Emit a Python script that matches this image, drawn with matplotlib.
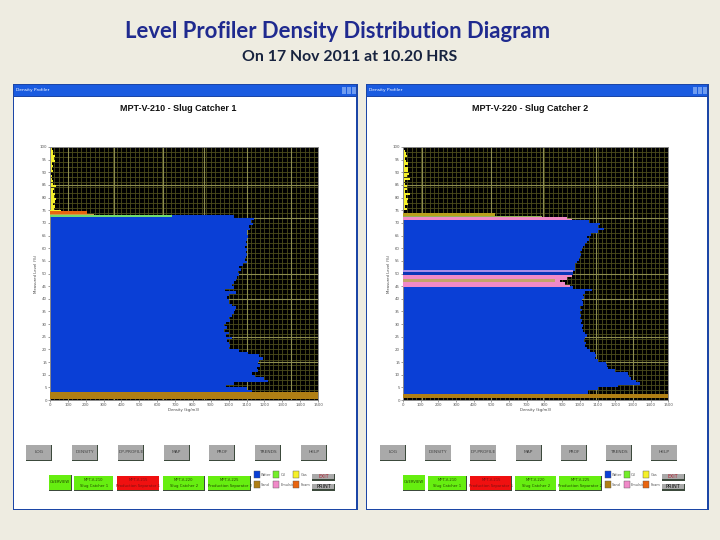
# -*- coding: utf-8 -*-
"""
level profiler density screens, two slug catchers side by side
"""
import matplotlib
matplotlib.use("Agg")
import matplotlib.pyplot as plt
from matplotlib.patches import Rectangle

# phase colours
WATER = "#0a3fd6"
OIL = "#6fdc6f"
GAS = "#f5f02a"
SAND = "#b07f14"
EMULSION = "#f08ac8"
FOAM = "#e8650f"

# left vessel, one value per level from 2 up to 72
v210_levels = list(range(2, 73))
v210_water = [1130, 1130, 1100, 985, 1030, 1220, 1200, 1150, 1130, 1165, 1160,
              1175, 1165, 1170, 1190, 1170, 1110, 1060, 1000, 1010, 1000,
              990, 1020, 985, 1000, 975, 990, 975, 985, 1010, 1000,
              1020, 1030, 1035, 1040, 1020, 1000, 1000, 990, 1000, 1040,
              980, 1030, 1020, 1030, 1040, 1045, 1060, 1050, 1070, 1060,
              1080, 1100, 1090, 1095, 1100, 1095, 1100, 1090, 1100, 1095,
              1100, 1110, 1100, 1105, 1120, 1115, 1135, 1125, 1140, 1030]
v210_gas_levels = [75, 76, 77, 78, 79, 80, 81, 82, 83, 84, 85, 86, 87, 88, 89,
                   90, 91, 92, 93, 94, 95, 96, 97, 98, 99]
v210_gas = [20, 30, 16, 26, 34, 20, 30, 16, 24, 32, 14, 18, 10, 12, 8,
            14, 10, 16, 12, 28, 24, 28, 18, 16, 10]

# right vessel
v220_levels = list(range(2, 71))
v220_water = [1047, 1047, 1104, 1217, 1340, 1320, 1290, 1280, 1274, 1200, 1160,
              1155, 1150, 1100, 1085, 1090, 1085, 1060, 1040, 1030, 1035,
              1025, 1030, 1040, 1030, 1020, 1010, 1015, 1005, 1010, 1000,
              1005, 1000, 1010, 1000, 1015, 1020, 1010, 1025, 1020, 1030,
              1066, 960, 0, 0, 0, 0, 0, 963, 975, 972,
              975, 985, 995, 1000, 1005, 1000, 1010, 1020, 1030, 1040,
              1050, 1040, 1065, 1100, 1135, 1100, 1115, 1050]
v220_gas_levels = [75, 76, 77, 78, 79, 80, 81, 82, 83, 84, 85, 86, 87, 88, 89,
                   90, 91, 92, 93, 94, 95, 96, 97, 98, 99]
v220_gas = [22, 12, 26, 20, 28, 18, 40, 12, 20, 24, 14, 10, 42, 22, 36,
            30, 28, 12, 26, 18, 14, 24, 16, 12, 8]
v220_emulsion_levels = [44.5, 45.5, 46.5, 47.5, 48.5]
v220_emulsion = [944, 915, 887, 930, 953]

x_ticks = list(range(0, 1501, 100))
y_ticks = list(range(0, 101, 5))

# aliased grid of the screenshot, brighter lines
v210_bright_x = [100, 360, 630, 860, 1100, 1350]
v220_bright_x = [105, 500, 790, 1090, 1300]
bright_y = [15, 25, 40, 50, 72, 85]

left_buttons = ["LOG", "DENSITY", "DP-PROFILE", "MAP", "PROF", "TRENDS", "HELP"]
right_buttons = ["LOG", "DENSITY", "DP-PROFILE", "MAP", "PROF", "TRENDS", "HELP"]
vessel_names = ["MPT-V-210\nSlug Catcher 1", "MPT-V-215\nProduction Separator 1",
                "MPT-V-220\nSlug Catcher 2", "MPT-V-225\nProduction Separator 2"]
legend_names = ["Water", "Oil", "Gas", "Sand", "Emulsion", "Foam"]
legend_colors = [WATER, "#74ee2a", GAS, SAND, EMULSION, FOAM]


def box(bg, x0, y0, x1, y1, color, edge="none", lw=0.0, z=1):
    bg.add_patch(Rectangle((x0, y0), x1 - x0, y1 - y0, facecolor=color,
                           edgecolor=edge, linewidth=lw, zorder=z))


def raised(bg, x0, y0, x1, y1, color, label, fontsize=3.2, textcolor="#444444"):
    # windows style button, dark lower edge
    box(bg, x0, y0, x1, y1, "#3c4a3c", z=2)
    box(bg, x0, y0, x1 - 0.6, y1 - 1.2, color, z=2.5)
    bg.text((x0 + x1) / 2, (y0 + y1) / 2 - 0.5, label, ha="center", va="center",
            fontsize=fontsize, color=textcolor, zorder=3, linespacing=1.5)


def draw_profile(fig, rect, levels, water, gas_levels, gas, bright_x):
    ax = fig.add_axes([rect[0] / 720, 1 - rect[3] / 540,
                       (rect[2] - rect[0]) / 720, (rect[3] - rect[1]) / 540])
    ax.set_facecolor("black")
    for x in range(0, 1500, 25):
        ax.axvline(x, color="#4d4d1c", lw=0.6, zorder=1)
    for y in range(0, 100, 2):
        ax.axhline(y, color="#4d4d1c", lw=0.6, zorder=1)
    for x in bright_x:
        ax.axvline(x, color="#8d8d50", lw=0.8, zorder=1)
    for y in bright_y:
        ax.axhline(y, color="#8d8d50", lw=0.8, zorder=1)
    ax.barh(levels, water, height=1.06, align="edge", color=WATER, zorder=2)
    ax.barh(gas_levels, gas, height=0.9, align="edge", color=GAS, zorder=2)
    ax.set_xlim(0, 1500)
    ax.set_ylim(0, 100)
    ax.set_xticks(x_ticks)
    ax.set_yticks(y_ticks)
    ax.tick_params(labelsize=2.8, length=1.2, width=0.4, pad=1, colors="#555555")
    ax.set_xlabel("Density (kg/m3)", fontsize=2.8, labelpad=1, color="#444444")
    ax.set_ylabel("Measured Level (%)", fontsize=2.8, labelpad=1, color="#444444")
    for s in ax.spines.values():
        s.set_color("#8a8a8a")
        s.set_linewidth(0.7)
    return ax


def draw_legend(bg, xs, exit_x):
    for row, y in enumerate([471.0, 481.0]):
        for col, x in enumerate(xs):
            i = row * 3 + col
            box(bg, x, y, x + 6, y + 7, legend_colors[i], edge="#555555", lw=0.3, z=3)
            bg.text(x + 7, y + 3.5, legend_names[i], fontsize=2.5, va="center",
                    color="#555555", zorder=3)
    raised(bg, exit_x, 473.5, exit_x + 22.5, 480.5, "#a9a9a9", "EXIT", 3.4, "#b02030")
    raised(bg, exit_x, 483.5, exit_x + 22.5, 490.5, "#a9a9a9", "PRINT", 3.6, "#111111")


def draw_window(bg, x0, x1, name, button_xs, tab_xs, overview_x, legend_xs, exit_x, buttons):
    box(bg, x0, 84, x1, 510, "#1c46a6")
    box(bg, x0 + 1.2, 97, x1 - 1.2, 508.6, "white", z=1.5)
    box(bg, x0 + 1.2, 85, x1 - 1.2, 96, "#1a5be0", z=1.5)
    bg.text(x0 + 3, 90.5, "Density Profiler", fontsize=3.2, color="white", va="center", zorder=3)
    for k in range(3):
        box(bg, x1 - 16 + k * 5, 87, x1 - 12 + k * 5, 94, "#6f9cf0", z=2)
    bg.text((x0 + x1) / 2 - 7, 108.5, name, ha="center", va="center", fontsize=6.5,
            fontweight="bold", family="Liberation Sans", color="#111111", zorder=3)
    for x, label in zip(button_xs, buttons):
        raised(bg, x, 445, x + 26, 460.7, "#a9a9a9", label)
    raised(bg, overview_x, 475, overview_x + 22.5, 490.7, "#66ee10", "OVERVIEW", 2.7, "#224400")
    colors = ["#66ee10", "#f01010", "#66ee10", "#66ee10"]
    for (a, b), label, c in zip(tab_xs, vessel_names, colors):
        raised(bg, a, 476, b, 490.7, c, label, 2.7, "#7a1010" if c == "#f01010" else "#224400")
    draw_legend(bg, legend_xs, exit_x)


fig = plt.figure(figsize=(7.2, 5.4), dpi=100, facecolor="#eeece1")
bg = fig.add_axes([0, 0, 1, 1])
bg.set_xlim(0, 720)
bg.set_ylim(540, 0)
bg.axis("off")

bg.text(337.5, 31, "Level Profiler Density Distribution Diagram", ha="center", va="center",
        fontsize=15.9, fontweight="bold", family="Lato", color="#1f2a8f")
bg.text(350, 57, "On 17 Nov 2011 at 10.20 HRS", ha="center", va="center",
        fontsize=11.4, fontweight="bold", family="Lato", color="#17233f")

draw_window(bg, 12.5, 357.5, "MPT-V-210 - Slug Catcher 1",
            [26, 72, 118, 163.7, 209, 255, 301],
            [(74.3, 113.3), (117.3, 159.3), (162.7, 204.7), (208.3, 250.7)],
            49, [254, 273.3, 293.3], 312.3, left_buttons)
draw_window(bg, 366, 708.5, "MPT-V-220 - Slug Catcher 2",
            [380, 425.3, 470.3, 515.7, 561, 606, 651.3],
            [(428, 467), (470.3, 511.7), (515, 556.3), (559.3, 601.7)],
            402.7, [604.7, 624, 643.3], 662, right_buttons)

# left vessel
ax1 = draw_profile(fig, (50, 147, 318, 400), v210_levels, v210_water,
                   v210_gas_levels, v210_gas, v210_bright_x)
ax1.barh([0.4], [1500], height=2.6, align="edge", color=SAND, zorder=3)
ax1.barh([72.2], [685], height=0.8, align="edge", color=OIL, zorder=3)
ax1.barh([73.0], [245], height=0.6, align="edge", color="#c9a24a", zorder=3)
ax1.barh([73.5], [205], height=1.2, align="edge", color=FOAM, zorder=3)
ax1.barh([74.7], [60], height=0.5, align="edge", color=GAS, zorder=3)

# right vessel
ax2 = draw_profile(fig, (403, 147, 668.3, 400), v220_levels, v220_water,
                   v220_gas_levels, v220_gas, v220_bright_x)
ax2.barh([0.9], [1500], height=1.6, align="edge", color=SAND, zorder=3)
ax2.barh(v220_emulsion_levels, v220_emulsion, height=1.0, align="edge", color=EMULSION, zorder=3)
ax2.barh([46.5], [860], height=1.3, align="edge", color="#c2a36a", zorder=4)
ax2.barh([50.6], [963], height=0.8, align="edge", color="#a98ce8", zorder=3)
ax2.barh([49.4], [963], height=1.2, align="edge", color="#0a35b8", zorder=3)
ax2.barh([71.0], [953], height=0.7, align="edge", color=EMULSION, zorder=3)
ax2.barh([71.7], [925], height=0.6, align="edge", color=EMULSION, zorder=3)
ax2.barh([72.2], [784], height=0.7, align="edge", color="#8fb45a", zorder=3)
ax2.barh([72.8], [520], height=1.0, align="edge", color="#b9a01e", zorder=3)

plt.savefig("out.png", dpi=100)
